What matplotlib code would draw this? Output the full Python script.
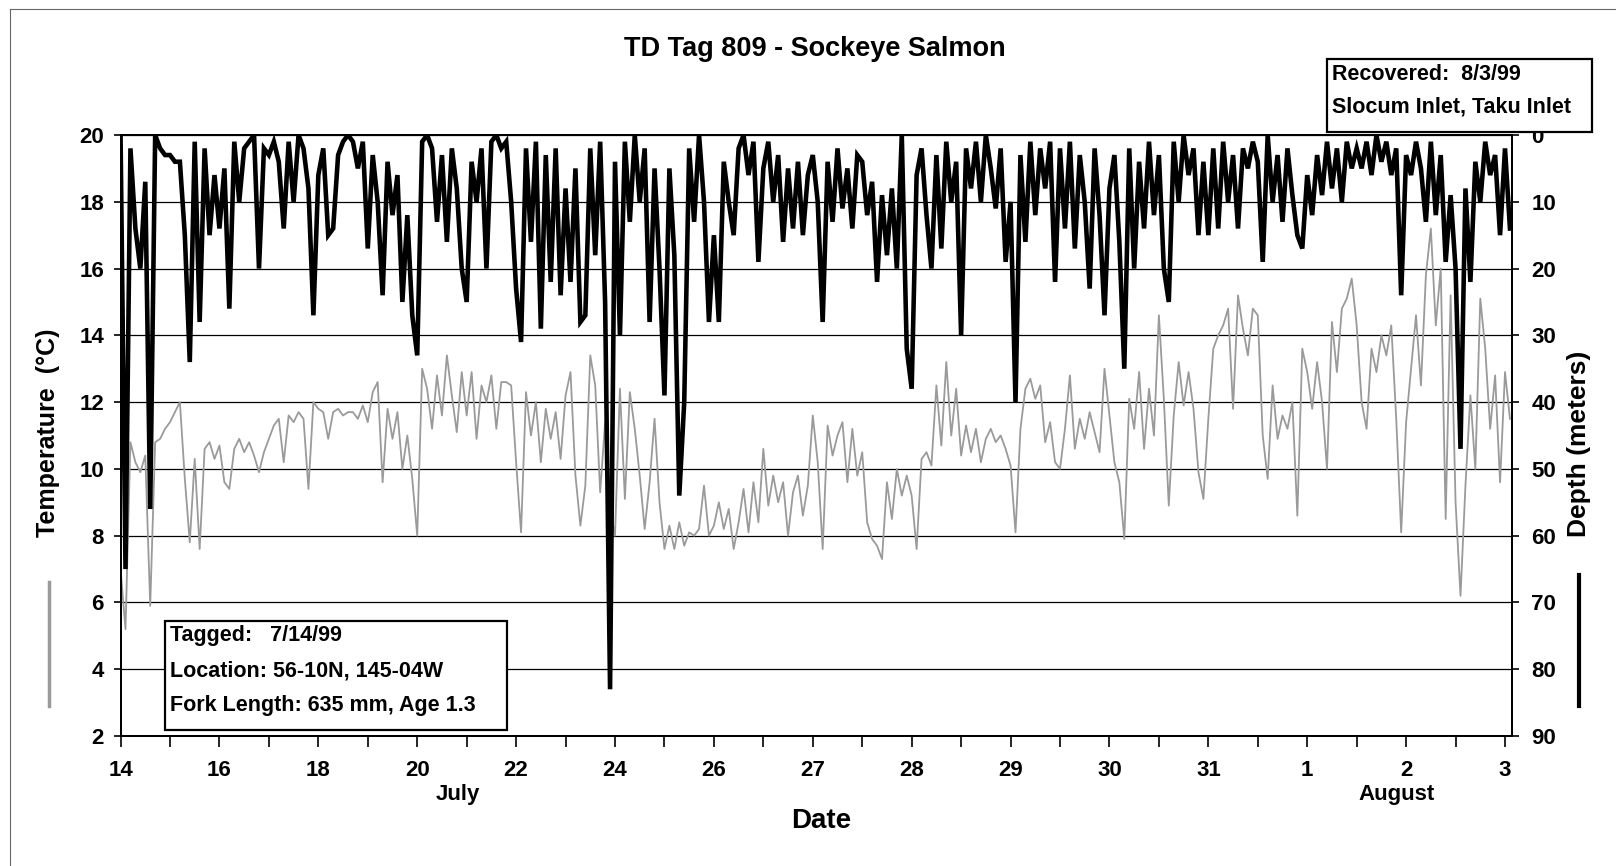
import matplotlib.pyplot as plt
import matplotlib.transforms as mtransforms
from matplotlib.lines import Line2D
from matplotlib.patches import Rectangle
import numpy as np

plt.rcParams['font.family'] = ['Liberation Sans Narrow', 'Liberation Sans', 'DejaVu Sans']
plt.rcParams['font.weight'] = 'bold'

# date labels on every second tick (ticks are evenly spaced in the original)
date_labels = ['14', '16', '18', '20', '22', '24', '26', '27', '28', '29', '30', '31', '1', '2', '3']
month_labels = ['July', 'August']
month_pos = [6.83, 25.8]

# depth (m), 10 readings per tick interval
depth_m = [
    0, 65, 2, 14, 20, 7, 56, 0, 2, 3,
    3, 4, 4, 15, 34, 1, 28, 2, 15, 6,
    14, 5, 26, 1, 10, 2, 1, 0, 20, 2,
    3, 1, 4, 14, 1, 10, 0, 2, 8, 27,
    6, 2, 15, 14, 3, 1, 0, 1, 5, 1,
    17, 3, 10, 24, 4, 12, 6, 25, 12, 27,
    33, 1, 0, 2, 13, 3, 16, 2, 8, 20,
    25, 4, 10, 2, 20, 1, 0, 2, 1, 10,
    23, 31, 2, 16, 1, 29, 3, 22, 2, 24,
    8, 22, 5, 28, 27, 2, 18, 1, 25, 83,
    4, 30, 1, 13, 0, 10, 2, 28, 5, 20,
    39, 5, 18, 54, 40, 2, 13, 0, 10, 28,
    15, 28, 4, 10, 15, 2, 0, 6, 1, 19,
    5, 1, 10, 3, 16, 5, 14, 4, 15, 6,
    3, 10, 28, 4, 13, 2, 11, 5, 14, 3,
    4, 12, 7, 22, 9, 18, 8, 20, 0, 32,
    38, 6, 2, 12, 20, 3, 17, 1, 10, 4,
    30, 2, 8, 1, 10, 0, 5, 11, 2, 19,
    10, 40, 3, 16, 1, 12, 2, 8, 1, 22,
    2, 14, 1, 17, 3, 10, 23, 2, 12, 27,
    8, 3, 16, 35, 2, 20, 4, 14, 1, 12,
    3, 20, 25, 1, 10, 0, 6, 2, 15, 4,
    15, 2, 14, 1, 10, 3, 14, 2, 5, 1,
    4, 19, 0, 10, 3, 13, 2, 9, 15, 17,
    6, 12, 3, 9, 1, 8, 2, 10, 1, 5,
    2, 5, 1, 6, 0, 4, 1, 6, 2, 24,
    3, 6, 1, 5, 13, 1, 12, 3, 19, 9,
    20, 47, 8, 22, 4, 10, 1, 6, 3, 15,
    2, 14,
]

# temperature (deg C), same sampling
temp_c = [
    7.0, 5.2, 10.8, 10.2, 9.9, 10.4, 5.9, 10.8, 10.9, 11.2,
    11.4, 11.7, 12.0, 9.7, 7.8, 10.3, 7.6, 10.6, 10.8, 10.3,
    10.7, 9.6, 9.4, 10.6, 10.9, 10.5, 10.8, 10.4, 9.9, 10.5,
    10.9, 11.3, 11.5, 10.2, 11.6, 11.4, 11.7, 11.5, 9.4, 12.0,
    11.8, 11.7, 10.9, 11.7, 11.8, 11.6, 11.7, 11.7, 11.5, 11.9,
    11.4, 12.3, 12.6, 9.6, 11.8, 10.9, 11.7, 10.0, 11.0, 9.7,
    8.0, 13.0, 12.4, 11.2, 12.8, 11.6, 13.4, 12.2, 11.1, 12.9,
    11.6, 12.9, 10.9, 12.5, 12.0, 12.8, 11.2, 12.6, 12.6, 12.5,
    10.2, 8.1, 12.3, 11.0, 12.0, 10.2, 11.8, 10.9, 11.7, 10.3,
    12.2, 12.9, 9.8, 8.3, 9.5, 13.4, 12.5, 9.3, 11.4, 8.8,
    8.0, 12.4, 9.1, 12.3, 11.2, 9.8, 8.2, 9.6, 11.5, 9.0,
    7.6, 8.3, 7.6, 8.4, 7.7, 8.1, 8.0, 8.2, 9.5, 8.0,
    8.3, 9.0, 8.2, 8.8, 7.6, 8.4, 9.4, 8.1, 9.6, 8.4,
    10.6, 8.9, 9.8, 9.0, 9.6, 8.0, 9.3, 9.8, 8.6, 9.5,
    11.6, 10.2, 7.6, 11.3, 10.4, 11.0, 11.4, 9.6, 11.2, 9.8,
    10.5, 8.4, 7.9, 7.7, 7.3, 9.6, 8.5, 10.0, 9.2, 9.8,
    9.2, 7.6, 10.3, 10.5, 10.1, 12.5, 10.7, 13.2, 11.0, 12.4,
    10.4, 11.3, 10.5, 11.2, 10.2, 10.9, 11.2, 10.8, 11.0, 10.6,
    10.1, 8.1, 11.2, 12.4, 12.7, 12.1, 12.5, 10.8, 11.4, 10.2,
    10.0, 11.2, 12.8, 10.6, 11.5, 10.9, 11.7, 11.1, 10.5, 13.0,
    11.6, 10.2, 9.6, 7.9, 12.1, 11.2, 12.9, 10.6, 12.4, 11.0,
    14.6, 12.1, 8.9, 11.6, 13.2, 11.9, 12.9, 11.8, 9.9, 9.1,
    11.5, 13.6, 14.0, 14.3, 14.8, 11.8, 15.2, 14.2, 13.4, 14.8,
    14.6, 11.0, 9.7, 12.5, 10.9, 11.6, 11.2, 12.0, 8.6, 13.6,
    12.9, 11.8, 13.2, 12.0, 10.0, 14.4, 12.9, 14.8, 15.1, 15.7,
    14.3, 12.0, 11.2, 13.6, 12.9, 14.0, 13.4, 14.3, 11.5, 8.1,
    11.4, 13.0, 14.6, 12.5, 15.8, 17.2, 14.3, 16.0, 8.5, 15.2,
    9.0, 6.2, 9.5, 12.2, 10.0, 15.1, 13.6, 11.2, 12.8, 9.6,
    12.9, 11.5,
]

samples_per_tick = 10
x = np.arange(len(depth_m)) / samples_per_tick

fig = plt.figure(figsize=(16.16, 8.66), dpi=100)
ax = fig.add_axes([0.0746, 0.1501, 0.861, 0.694])

ax.plot(x, temp_c, color='#9a9a9a', lw=1.3)
ax.set_ylim(2, 20)
ax.set_yticks(np.arange(2, 21, 2))
ax.set_xlim(0, 28.14)
ax.set_xticks(np.arange(0, 29, 2))
ax.set_xticklabels(date_labels)
ax.set_xticks(np.arange(0, 29), minor=True)
ax.grid(axis='y', color='black', lw=0.9)
ax.set_axisbelow(True)
ax.tick_params(axis='x', which='both', length=8, width=1.2, pad=9, labelsize=16)
ax.tick_params(axis='y', length=5, width=1.2, pad=7, labelsize=16)

ax2 = ax.twinx()
ax2.plot(x, depth_m, color='black', lw=3.3, solid_joinstyle='miter')
ax2.set_ylim(90, 0)
ax2.set_yticks(np.arange(0, 91, 10))
ax2.tick_params(axis='y', length=5, width=1.2, pad=9, labelsize=16)

for a in (ax, ax2):
    for s in a.spines.values():
        s.set_linewidth(1.4)

trans = mtransforms.blended_transform_factory(ax.transData, ax.transAxes)
for lab, pos in zip(month_labels, month_pos):
    ax.text(pos, -0.098, lab, transform=trans, ha='center', va='center', fontsize=16)

fig.text(0.504, 0.943, 'TD Tag 809 - Sockeye Salmon', ha='center', va='center', fontsize=19.5)
fig.text(0.508, 0.052, 'Date', ha='center', va='center', fontsize=20)
fig.text(0.030, 0.50, 'Temperature  (°C)', rotation=90, ha='center', va='center', fontsize=18)
fig.text(0.977, 0.488, 'Depth (meters)', rotation=90, ha='center', va='center', fontsize=19)

# little series keys next to the axis titles
fig.add_artist(Line2D([0.0306, 0.0306], [0.185, 0.328], color='#9a9a9a', lw=2.5))
fig.add_artist(Line2D([0.977, 0.977], [0.185, 0.336], color='black', lw=3))

# info boxes
fig.add_artist(Rectangle((0.1021, 0.157), 0.2116, 0.126, transform=fig.transFigure,
                         facecolor='white', edgecolor='black', lw=1.6, zorder=5))
tag_lines = ['Tagged:   7/14/99', 'Location: 56-10N, 145-04W', 'Fork Length: 635 mm, Age 1.3']
for i, t in enumerate(tag_lines):
    fig.text(0.105, 0.2656 - i * 0.0404, t, ha='left', va='center', fontsize=15.5, zorder=6)

fig.add_artist(Rectangle((0.8212, 0.8476), 0.1639, 0.0843, transform=fig.transFigure,
                         facecolor='white', edgecolor='black', lw=1.6, zorder=5))
rec_lines = ['Recovered:  8/3/99', 'Slocum Inlet, Taku Inlet']
for i, t in enumerate(rec_lines):
    fig.text(0.8245, 0.9134 - i * 0.037, t, ha='left', va='center', fontsize=15.5, zorder=6)

# scan border
fig.add_artist(Line2D([0.006, 0.006], [0.0, 0.99], color='#666666', lw=0.8))
fig.add_artist(Line2D([0.006, 1.0], [0.99, 0.99], color='#666666', lw=0.8))

fig.savefig('out.png', dpi=100)
